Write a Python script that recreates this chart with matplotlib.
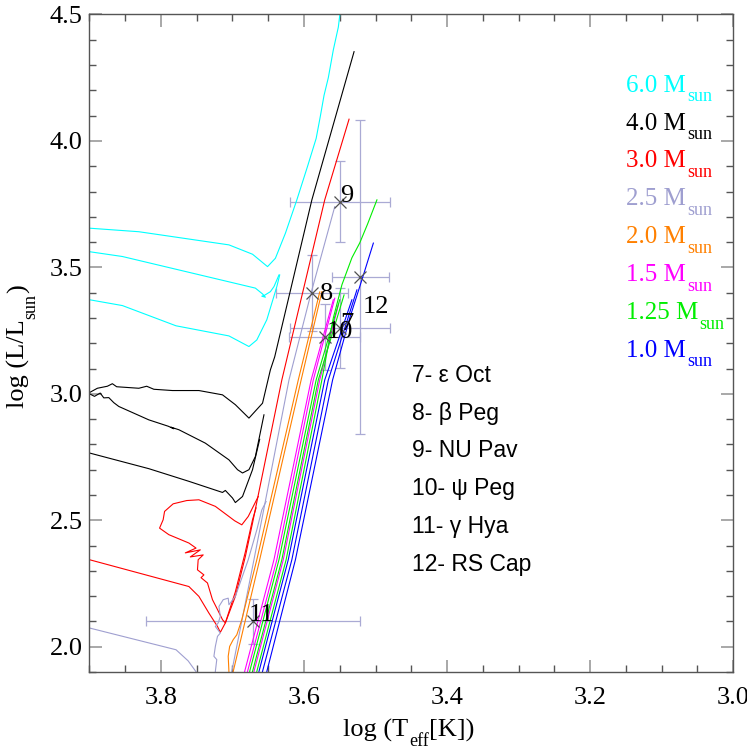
import numpy as np
import matplotlib.pyplot as plt
from matplotlib.ticker import MultipleLocator

plt.rcParams['font.family'] = ['Liberation Serif', 'DejaVu Serif']
plt.rcParams['mathtext.fontset'] = 'custom'
plt.rcParams['mathtext.rm'] = 'Liberation Serif'

# evolutionary tracks: (log Teff, log L)
tracks_6p0 = [
    ([3.900, 3.831, 3.705, 3.672, 3.651, 3.640, 3.626, 3.610, 3.595, 3.583, 3.577, 3.572,
      3.566, 3.559, 3.552, 3.549],
     [3.655, 3.641, 3.589, 3.552, 3.503, 3.536, 3.635, 3.767, 3.900, 4.010, 4.100, 4.180,
      4.250, 4.360, 4.450, 4.520]),
    ([3.900, 3.854, 3.668, 3.658, 3.654, 3.659, 3.655, 3.647, 3.642, 3.635],
     [3.562, 3.543, 3.418, 3.395, 3.382, 3.386, 3.390, 3.404, 3.424, 3.470]),
    ([3.900, 3.854, 3.779, 3.705, 3.677, 3.666, 3.652, 3.638, 3.634],
     [3.372, 3.349, 3.269, 3.229, 3.187, 3.213, 3.293, 3.424, 3.470]),
]
tracks_4p0 = [
    ([3.900, 3.889, 3.875, 3.868, 3.862, 3.831, 3.820, 3.810, 3.784, 3.747, 3.714, 3.696,
      3.677, 3.658, 3.647, 3.641, 3.589, 3.530],
     [3.005, 3.022, 3.030, 3.040, 3.028, 3.022, 3.030, 3.018, 3.013, 3.013, 2.996, 2.957,
      2.904, 2.963, 3.095, 3.146, 3.767, 4.353]),
    ([3.900, 3.893, 3.885, 3.880, 3.873, 3.866, 3.859, 3.817, 3.790, 3.782, 3.786, 3.775,
      3.738, 3.705, 3.693, 3.686, 3.677, 3.668, 3.656],
     [3.000, 2.990, 3.003, 2.984, 2.985, 2.965, 2.950, 2.897, 2.872, 2.862, 2.868, 2.858,
      2.805, 2.739, 2.700, 2.687, 2.700, 2.752, 2.917]),
    ([3.900, 3.817, 3.761, 3.714, 3.710, 3.700, 3.696, 3.686, 3.672, 3.662],
     [2.766, 2.704, 2.654, 2.610, 2.618, 2.588, 2.570, 2.594, 2.700, 2.820]),
]
tracks_3p0 = [
    ([3.900, 3.761, 3.747, 3.733, 3.721, 3.717, 3.710, 3.696, 3.682, 3.672, 3.631, 3.571, 3.537],
     [2.344, 2.238, 2.199, 2.133, 2.080, 2.057, 2.094, 2.199, 2.357, 2.489, 3.055, 3.767, 4.086]),
    ([3.664, 3.678, 3.687, 3.697, 3.705, 3.724, 3.747, 3.764, 3.783, 3.795, 3.797, 3.802,
      3.789, 3.761, 3.751, 3.766, 3.745, 3.759, 3.741, 3.748, 3.749, 3.740, 3.744, 3.735,
      3.728, 3.721, 3.714, 3.710, 3.696, 3.682, 3.672, 3.667],
     [2.594, 2.515, 2.482, 2.498, 2.515, 2.555, 2.581, 2.578, 2.565, 2.535, 2.502, 2.469,
      2.443, 2.410, 2.390, 2.371, 2.383, 2.355, 2.363, 2.344, 2.304, 2.284, 2.273, 2.252,
      2.186, 2.147, 2.107, 2.094, 2.217, 2.375, 2.502, 2.549]),
]
tracks_2p5 = [
    ([3.900, 3.779, 3.762, 3.751, 3.745],
     [2.074, 1.988, 1.944, 1.901, 1.870]),
    ([3.724, 3.724, 3.722, 3.726, 3.724, 3.721, 3.717, 3.724, 3.720, 3.717, 3.719, 3.713,
      3.706, 3.705, 3.698, 3.696, 3.678, 3.666, 3.659, 3.653],
     [1.870, 1.902, 1.949, 1.962, 2.001, 2.041, 2.054, 2.080, 2.094, 2.120, 2.159, 2.186,
      2.192, 2.166, 2.192, 2.199, 2.344, 2.462, 2.541, 2.574]),
    ([3.701, 3.670, 3.621, 3.590, 3.557],
     [1.902, 2.344, 3.055, 3.400, 3.740]),
]
tracks_2p0 = [
    ([3.705, 3.705, 3.706, 3.704, 3.699, 3.694, 3.687, 3.680, 3.666, 3.608, 3.578],
     [1.870, 1.902, 1.962, 2.001, 2.028, 2.047, 2.107, 2.186, 2.344, 3.055, 3.403]),
    ([3.702, 3.699, 3.662, 3.604, 3.575],
     [1.870, 1.902, 2.344, 3.055, 3.404]),
]
tracks_1p5 = [
    ([3.683, 3.642, 3.590, 3.559], [1.902, 2.344, 3.055, 3.372]),
    ([3.679, 3.638, 3.587, 3.557], [1.902, 2.344, 3.055, 3.378]),
    ([3.670, 3.629, 3.578, 3.552], [1.902, 2.344, 3.055, 3.352]),
]
tracks_1p25 = [
    ([3.676, 3.635, 3.583, 3.550], [1.902, 2.344, 3.055, 3.372]),
    ([3.672, 3.631, 3.580, 3.544], [1.902, 2.344, 3.055, 3.391]),
    ([3.666, 3.625, 3.575, 3.559, 3.547, 3.533, 3.522, 3.511, 3.498],
     [1.902, 2.344, 3.055, 3.300, 3.431, 3.538, 3.597, 3.672, 3.767]),
]
tracks_1p0 = [
    ([3.663, 3.622, 3.571, 3.533], [1.902, 2.344, 3.055, 3.372]),
    ([3.658, 3.617, 3.566, 3.526], [1.902, 2.344, 3.055, 3.411]),
    ([3.652, 3.612, 3.560, 3.536, 3.519, 3.503], [1.902, 2.344, 3.055, 3.300, 3.451, 3.596]),
]

mass_labels = ['6.0', '4.0', '3.0', '2.5', '2.0', '1.5', '1.25', '1.0']
mass_colors = ['#00ffff', '#000000', '#ff0000', '#9f9fd0', '#ff8000', '#ff00ff', '#00ee00', '#0000ff']
mass_tracks = [tracks_6p0, tracks_4p0, tracks_3p0, tracks_2p5, tracks_2p0,
               tracks_1p5, tracks_1p25, tracks_1p0]

# observed stars
star_ids = ['7', '8', '9', '10', '11', '12']
star_logt = [3.550, 3.589, 3.550, 3.571, 3.671, 3.521]
star_logl = [3.261, 3.400, 3.760, 3.224, 2.100, 3.461]
star_terr = [0.07, 0.05, 0.07, 0.05, 0.15, 0.04]
star_lerr = [0.158, 0.15, 0.16, 0.13, 0.09, 0.62]
star_names = ['7- ε Oct', '8- β Peg', '9- NU Pav', '10- ψ Peg', '11- γ Hya', '12- RS Cap']

fig = plt.figure(figsize=(7.47, 7.47), dpi=100)
ax = fig.add_axes([0.1198, 0.1004, 0.8615, 0.8802])

# error bars first so the tracks sit on top
for t, l, te, le in zip(star_logt, star_logl, star_terr, star_lerr):
    ax.errorbar(t, l, xerr=te, yerr=le, fmt='none', ecolor='#aaaad4',
                elinewidth=0.9, capsize=3.3, capthick=0.9, zorder=1)

for tracks, color in zip(mass_tracks, mass_colors):
    for logt, logl in tracks:
        ax.plot(logt, logl, color=color, lw=0.8, zorder=2)

ax.plot(star_logt, star_logl, 'x', color='#505050', ms=8.5, mew=0.9, zorder=4)

# number labels next to each star (offsets in points)
label_offsets = [(0, -1.4), (5.8, -5.3), (0.5, 0), (1.2, -0.7), (-3.6, 0), (1.4, -26)]
for sid, t, l, off in zip(star_ids, star_logt, star_logl, label_offsets):
    ax.annotate(sid, (t, l), xytext=off, textcoords='offset points',
                ha='left', va='baseline', fontsize=19, zorder=5)

# mass legend, with IDL-like lowered subscripts
for i, (lab, color) in enumerate(zip(mass_labels, mass_colors)):
    main = ax.text(0.834, 0.8826 - i * 0.0576, lab + ' M', color=color,
                   transform=ax.transAxes, fontsize=18, ha='left', va='baseline')
    ax.annotate('sun', xy=(1, 0), xycoords=main, xytext=(0.8, -3.3),
                textcoords='offset points', color=color, fontsize=13,
                ha='left', va='baseline')

# star names
for i, name in enumerate(star_names):
    ax.text(0.501, 0.4415 - i * 0.0576, name, transform=ax.transAxes,
            family=['Liberation Sans', 'DejaVu Sans'], fontsize=16.5,
            ha='left', va='baseline')

ax.set_xlim(3.9, 3.0)
ax.set_ylim(1.9, 4.5)
ax.xaxis.set_minor_locator(MultipleLocator(0.05))
ax.yaxis.set_minor_locator(MultipleLocator(0.1))
ax.set_xticks([3.8, 3.6, 3.4, 3.2, 3.0])
ax.set_xticklabels(['3.8', '3.6', '3.4', '3.2', '3.0'])
ax.set_yticks([2.0, 2.5, 3.0, 3.5, 4.0, 4.5])
ax.set_yticklabels(['2.0', '2.5', '3.0', '3.5', '4.0', '4.5'])
ax.tick_params(which='both', direction='in', top=True, right=True, labelsize=19)
ax.tick_params(which='major', length=9, width=1.2, color='#9a9a9a')
ax.tick_params(which='minor', length=5.3, width=1.0, color='#555555')
ax.tick_params(axis='x', which='major', pad=11)
ax.tick_params(axis='y', which='major', pad=5)
for lab in ax.get_xticklabels() + ax.get_yticklabels():
    lab.set_fontfamily(['Liberation Serif', 'DejaVu Serif'])
for sp in ax.spines.values():
    sp.set_color('#555555')
    sp.set_linewidth(1.0)

# x label: log (T_eff[K])
xl = fig.text(0.4597, 0.0134, 'log (T', ha='left', va='baseline', fontsize=19)
xs = ax.annotate('eff', xy=(1, 0), xycoords=xl, xytext=(0.3, -2.4),
                 textcoords='offset points', fontsize=13, ha='left', va='baseline',
                 annotation_clip=False)
ax.annotate('[K])', xy=(1, 0), xycoords=(xs, xl), xytext=(0.3, 0),
            textcoords='offset points', fontsize=19, ha='left', va='bottom',
            annotation_clip=False)

# y label: log (L/L_sun), rotated
yl = fig.text(0.040, 0.454, 'log (L/L', ha='right', va='bottom', rotation=90, fontsize=19)
ys = ax.annotate('sun', xy=(1, 1), xycoords=yl, xytext=(7, 0.3),
                 textcoords='offset points', fontsize=13, ha='right', va='bottom',
                 rotation=90, annotation_clip=False)
ax.annotate(')', xy=(1, 1), xycoords=(yl, ys), xytext=(0, 0.3),
            textcoords='offset points', fontsize=19, ha='right', va='bottom',
            rotation=90, annotation_clip=False)

fig.savefig('out.png', dpi=100)
